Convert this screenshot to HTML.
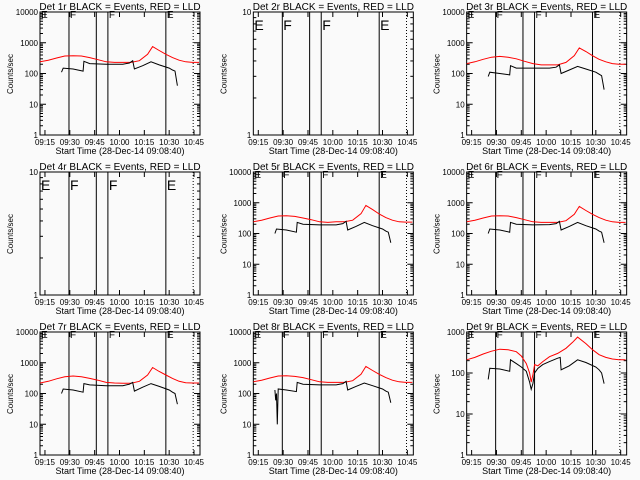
<!DOCTYPE html>
<html><head><meta charset="utf-8"><style>
html,body{margin:0;padding:0;background:#fafafa;}
svg{display:block;font-family:"Liberation Sans",sans-serif;}
</style></head><body>
<svg id="c" width="640" height="480" viewBox="0 0 640 480"></svg>
<script>
// x-axis ticks (minutes after 09:12)
const tickMins = [3, 18, 33, 48, 63, 78, 93];
const tickLabels = ["09:15","09:30","09:45","10:00","10:15","10:30","10:45"];
// vertical markers (minutes)
const solidLines = [17.5, 34, 41, 76];
const dottedLines = [92.5];
const markerLabels = ["E","F","F","E"];
const markerMins = [0, 17.5, 41, 76];
const redT = [0,5,10,15,20,25,30,35,40,45,50,55,60,65,68,72,76,80,84,88,92,96];
const red1 = [240,270,320,370,380,370,330,280,240,230,230,230,260,420,750,560,420,330,270,240,230,230];
const red3 = [210,240,290,340,360,340,300,250,210,190,190,190,230,380,680,520,380,290,240,210,200,200];
const red5 = [240,270,320,370,380,360,320,280,240,230,240,240,270,440,820,600,430,330,270,240,235,235];
const red6 = [240,270,320,370,380,370,330,280,240,230,230,230,260,420,760,560,420,330,270,240,230,230];
const red7 = [220,250,300,350,370,350,310,270,230,220,215,215,250,400,700,520,400,310,250,225,220,220];
const red8 = [240,270,320,370,380,360,330,280,240,230,230,230,260,420,760,560,420,330,270,240,230,230];
const blkT = [13,14,20,26,26.5,30,40,50,54,56,57,62,67,72,78,80,81.5,83];
const blk1 = [110,150,140,120,250,210,200,200,220,260,140,180,240,190,150,130,120,40];
const blk3 = [80,110,100,90,180,150,150,150,160,190,100,130,170,140,110,95,85,30];
const blk5 = [100,140,130,110,230,200,190,190,210,250,130,170,230,180,140,120,110,50];
const blk6 = [100,140,130,110,230,200,190,195,210,250,130,170,230,180,140,120,110,50];
const blk7 = [100,140,130,110,210,190,180,180,200,230,120,160,210,170,130,110,100,45];
const blk8T = [13,13.5,14,14.5,15,20,26,26.5,30,40,50,54,56,57,62,67,72,78,80,81.5,83];
const blk8 = [130,60,100,10,140,130,115,230,200,190,190,210,250,130,170,220,180,140,120,110,50];
const red9T = [0,5,10,15,20,25,30,33,36,38,39,40,41,43,46,50,55,60,64,67,72,76,80,84,88,92,96];
const red9 = [210,240,290,340,380,370,330,260,170,100,60,90,160,150,190,250,300,400,560,750,520,370,280,240,220,210,210];
const blk9T = [13,14,20,26,26.5,30,33,36,38,39,40,41,43,46,50,55,56.5,57,62,67,72,78,80,81.5,83];
const blk9 = [70,130,125,110,210,170,140,110,60,40,55,100,130,160,190,230,240,120,150,210,180,140,120,100,55];

const panels = [
  {n:1, decades:[0,4], r:[redT,red1], b:[blkT,blk1]},
  {n:2, decades:[0,1]},
  {n:3, decades:[0,4], r:[redT,red3], b:[blkT,blk3]},
  {n:4, decades:[0,1]},
  {n:5, decades:[0,4], r:[redT,red5], b:[blkT,blk5]},
  {n:6, decades:[0,4], r:[redT,red6], b:[blkT,blk6]},
  {n:7, decades:[0,4], r:[redT,red7], b:[blkT,blk7]},
  {n:8, decades:[0,4], r:[redT,red8], b:[blk8T,blk8]},
  {n:9, decades:[0,3], r:[red9T,red9], b:[blk9T,blk9]}
];
const svg = document.getElementById('c');
const NS = 'http://www.w3.org/2000/svg';
function mk(tag, attrs, parent){const e=document.createElementNS(NS,tag);for(const k in attrs)e.setAttribute(k,attrs[k]);(parent||svg).appendChild(e);return e;}

panels.forEach((p,i)=>{
  const ox = (i%3)*213.33, oy = Math.floor(i/3)*160;
  const L=ox+40, R=ox+200, T=oy+12, B=oy+135;
  const g = mk('g',{});
  
  
  const xs = m => L + m*1.656;
  const d0=p.decades[0], d1=p.decades[1];
  const ys = v => B - (Math.log10(v)-d0)/(d1-d0)*(B-T);
  const clipId='clip'+i;
  const cp=mk('clipPath',{id:clipId},g); mk('rect',{x:L,y:T,width:R-L,height:B-T},cp);
  const t=mk('text',{x:ox+120,y:oy+10,'font-size':10,'text-anchor':'middle',fill:'#000'},g);
  t.textContent='Det '+p.n+'r BLACK = Events, RED = LLD';
  
  
  const box=mk('rect',{x:L,y:T,width:R-L,height:B-T,fill:'none',stroke:'#000','stroke-width':1},g);
  
  
  for(let d=d0; d<=d1; d++){
    const y=ys(Math.pow(10,d));
    mk('line',{x1:L,x2:L+6,y1:y,y2:y,stroke:'#000'},g);
    mk('line',{x1:R-6,x2:R,y1:y,y2:y,stroke:'#000'},g);
    const lb=mk('text',{x:L-2,y:y+3,'font-size':8,'text-anchor':'end'},g);
    lb.textContent=String(Math.pow(10,d));
    
    
    if(d<d1) for(let k=2;k<10;k++){
      const yy=ys(k*Math.pow(10,d));
      mk('line',{x1:L,x2:L+3,y1:yy,y2:yy,stroke:'#000'},g);
      mk('line',{x1:R-3,x2:R,y1:yy,y2:yy,stroke:'#000'},g);
    }
  }
  const yt=mk('text',{x:ox+13,y:oy+74,'font-size':8,'text-anchor':'middle',transform:`rotate(-90 ${ox+13} ${oy+74})`},g);
  yt.textContent='Counts/sec';
  
  
  tickMins.forEach((m,j)=>{
    const x=xs(m);
    mk('line',{x1:x,x2:x,y1:B,y2:B-5,stroke:'#000'},g);
    mk('line',{x1:x,x2:x,y1:T,y2:T+5,stroke:'#000'},g);
    const lb=mk('text',{x:x,y:B+10,'font-size':8,'text-anchor':'middle'},g);
    lb.textContent=tickLabels[j];
    
    
  });
  const xt=mk('text',{x:ox+120,y:oy+154,'font-size':9,'text-anchor':'middle'},g);
  xt.textContent='Start Time (28-Dec-14 09:08:40)';
  
  
  solidLines.forEach(m=>{const l=mk('line',{x1:xs(m),x2:xs(m),y1:T,y2:B,stroke:'#000','stroke-width':1},g);
    
    });
  dottedLines.forEach(m=>{const l=mk('line',{x1:xs(m),x2:xs(m),y1:T,y2:B,stroke:'#000','stroke-dasharray':'1 2'},g);
    
    });
  const big = (d1-d0)>1;
  markerMins.forEach((m,j)=>{
    const tx=mk('text',{x:xs(m)+1,y: big? T+6 : T+18,'font-size': big?10:14,fill:'#000'},g);
    tx.textContent=markerLabels[j];
    
    
  });
  const series=[[p.r,'#ff0000','lld-line'],[p.b,'#000','events-line']];
  series.forEach(([s,col,nm])=>{
    if(!s) return;
    const pts=s[0].map((m,k)=>xs(m).toFixed(1)+','+ys(s[1][k]).toFixed(1)).join(' ');
    const pl=mk('polyline',{points:pts,fill:'none',stroke:col,'stroke-width':1,'clip-path':`url(#${clipId})`},g);
    
    
  });
});
</script>
</body></html>
